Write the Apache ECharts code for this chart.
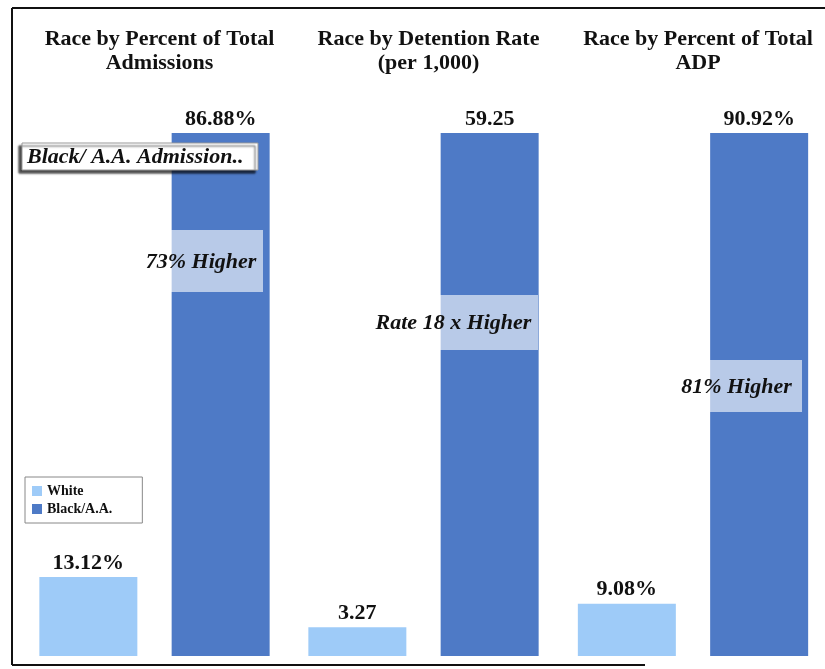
<!DOCTYPE html>
<html>
<head>
<meta charset="utf-8">
<script src="https://cdn.jsdelivr.net/npm/echarts@6/dist/echarts.min.js"></script>
<style>
html,body{margin:0;padding:0;background:#fff;}
#chart{width:825px;height:669px;}
</style>
</head>
<body>
<div id="chart"></div>
<script>
// ---- data ----
var panelTitles = ['Race by Percent of Total\nAdmissions', 'Race by Detention Rate\n(per 1,000)', 'Race by Percent of Total\nADP'];
var seriesNames = ['White', 'Black/A.A.'];
var whiteValues = [13.12, 3.27, 9.08];
var blackValues = [86.88, 59.25, 90.92];
var valueSuffix = ['%', '', '%'];
var annotationTexts = ['73% Higher', 'Rate 18 x Higher', '81% Higher'];
var calloutText = 'Black/ A.A. Admission..';

// ---- layout ----
var serif = '"Liberation Serif", "Times New Roman", serif';
var panelCenters = [154.5, 423.5, 693];
var gridW = 260;
var colWhite = '#9ecbf8';
var colBlack = '#4e7ac6';

var grids = [], xAxes = [], yAxes = [], series = [], titles = [];
for (var i = 0; i < 3; i++) {
  grids.push({left: panelCenters[i] - gridW / 2, width: gridW, top: 133, bottom: 13});
  xAxes.push({type: 'category', gridIndex: i, data: [''], show: false});
  yAxes.push({type: 'value', gridIndex: i, min: 0, max: blackValues[i], show: false});
  titles.push({
    text: panelTitles[i], left: panelCenters[i], top: 22, textAlign: 'center',
    textStyle: {fontFamily: serif, fontWeight: 'bold', fontSize: 22, color: '#111', lineHeight: 24}
  });
  (function (suffix) {
    var lbl = {
      show: true, position: 'top', distance: 3,
      fontFamily: serif, fontWeight: 'bold', fontSize: 22, color: '#111',
      formatter: function (p) { return p.value.toFixed(2) + suffix; }
    };
    series.push({
      name: seriesNames[0], type: 'bar', xAxisIndex: i, yAxisIndex: i,
      data: [whiteValues[i]], barWidth: 98, barGap: '35%',
      itemStyle: {color: colWhite}, label: lbl, silent: true
    });
    series.push({
      name: seriesNames[1], type: 'bar', xAxisIndex: i, yAxisIndex: i,
      data: [blackValues[i]], barWidth: 98, barGap: '35%',
      itemStyle: {color: colBlack}, label: lbl, silent: true
    });
  })(valueSuffix[i]);
}

var annoBoxes = [
  {x: 135, y: 230, w: 128, h: 62},
  {x: 365, y: 295, w: 173, h: 55},
  {x: 667, y: 360, w: 135, h: 52}
];
var graphics = [
  // frame
  {type: 'line', shape: {x1: 12, y1: 8, x2: 825, y2: 8}, style: {stroke: '#111', lineWidth: 2}, z: 100},
  {type: 'line', shape: {x1: 12, y1: 8, x2: 12, y2: 665}, style: {stroke: '#111', lineWidth: 2}, z: 100},
  {type: 'line', shape: {x1: 12, y1: 665, x2: 645, y2: 665}, style: {stroke: '#111', lineWidth: 2}, z: 100},
  // callout box
  {type: 'rect', shape: {x: 22, y: 143, width: 236, height: 27}, z: 100,
   style: {fill: '#fff', stroke: '#999', lineWidth: 1, shadowColor: 'rgba(0,0,0,0.7)', shadowOffsetX: -3, shadowOffsetY: 3, shadowBlur: 2}},
  {type: 'text', x: 27, y: 157, z: 101,
   style: {text: calloutText, fill: '#111', font: 'italic bold 22px ' + serif, verticalAlign: 'middle', align: 'left'}}
];
for (var k = 0; k < 3; k++) {
  var b = annoBoxes[k];
  graphics.push({type: 'rect', shape: {x: b.x, y: b.y, width: b.w, height: b.h}, z: 100,
    style: {fill: 'rgba(255,255,255,0.6)'}});
  graphics.push({type: 'text', x: b.x + b.w / 2 + 2, y: b.y + b.h / 2 + 1, z: 101,
    style: {text: annotationTexts[k], fill: '#111', font: 'italic bold 22px ' + serif, align: 'center', verticalAlign: 'middle'}});
}

var chart = echarts.init(document.getElementById('chart'));
chart.setOption({
  animation: false,
  backgroundColor: '#fff',
  title: titles,
  grid: grids,
  xAxis: xAxes,
  yAxis: yAxes,
  legend: {
    data: seriesNames, orient: 'vertical', left: 25, top: 477,
    itemWidth: 10, itemHeight: 10, itemGap: 4, icon: 'rect',
    padding: [7, 30, 7, 7], borderColor: '#888', borderWidth: 1, backgroundColor: '#fff',
    textStyle: {fontFamily: serif, fontWeight: 'bold', fontSize: 14, color: '#111'},
    selectedMode: false
  },
  series: series,
  graphic: graphics
});
</script>
</body>
</html>
